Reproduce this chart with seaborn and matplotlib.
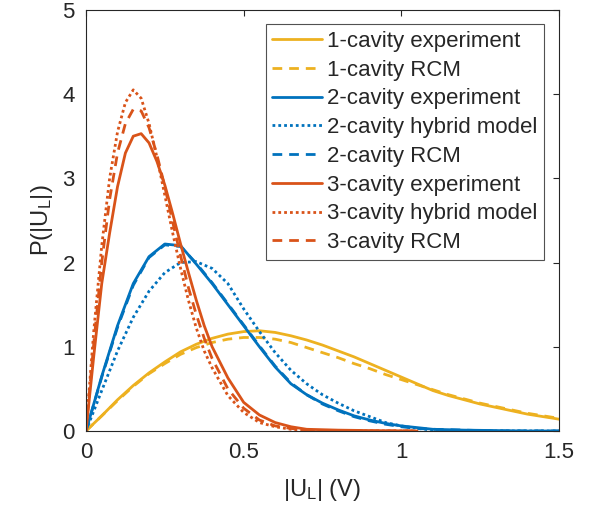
import numpy as np
import pandas as pd
import seaborn as sns
import matplotlib.pyplot as plt

# 1-cavity
x1 = [0, 0.05, 0.1, 0.15, 0.2, 0.25, 0.3, 0.35, 0.4, 0.45, 0.5, 0.55, 0.6, 0.65, 0.7,
      0.75, 0.8, 0.85, 0.9, 0.95, 1.0, 1.05, 1.1, 1.15, 1.2, 1.25, 1.3, 1.35, 1.4, 1.45, 1.5]
y1_exp = [0, 0.18, 0.37, 0.54, 0.69, 0.82, 0.94, 1.03, 1.10, 1.15, 1.18, 1.19, 1.17, 1.13, 1.08,
          1.02, 0.95, 0.88, 0.80, 0.72, 0.64, 0.56, 0.48, 0.42, 0.37, 0.32, 0.28, 0.24, 0.20, 0.17, 0.14]
y1_rcm = [0, 0.18, 0.36, 0.53, 0.68, 0.80, 0.91, 0.99, 1.05, 1.09, 1.11, 1.11, 1.09, 1.05, 0.99,
          0.93, 0.87, 0.80, 0.74, 0.67, 0.61, 0.55, 0.49, 0.43, 0.38, 0.33, 0.29, 0.25, 0.21, 0.18, 0.15]

# 2-cavity
x2 = [0, 0.05, 0.1, 0.15, 0.2, 0.25, 0.3, 0.35, 0.4, 0.45, 0.5, 0.55, 0.6, 0.65, 0.7,
      0.75, 0.8, 0.85, 0.9, 0.95, 1.0, 1.05, 1.1, 1.2, 1.3, 1.4, 1.5]
y2_exp = [0, 0.65, 1.25, 1.75, 2.07, 2.22, 2.20, 1.98, 1.75, 1.50, 1.25, 1.00, 0.76, 0.56, 0.43,
          0.33, 0.25, 0.18, 0.13, 0.09, 0.06, 0.04, 0.02, 0.01, 0.005, 0.0, 0.0]
y2_hyb = [0, 0.48, 0.95, 1.35, 1.66, 1.88, 2.00, 2.01, 1.93, 1.75, 1.45, 1.18, 0.93, 0.72, 0.56,
          0.43, 0.33, 0.24, 0.17, 0.10, 0.06, 0.03, 0.01, 0.0, 0.0, 0.0, 0.0]
y2_rcm = [0, 0.64, 1.23, 1.73, 2.06, 2.21, 2.19, 1.99, 1.76, 1.51, 1.26, 1.01, 0.77, 0.57, 0.43,
          0.32, 0.24, 0.17, 0.12, 0.08, 0.05, 0.03, 0.02, 0.01, 0.0, 0.0, 0.0]

# 3-cavity
x3 = [0, 0.025, 0.05, 0.075, 0.1, 0.125, 0.15, 0.175, 0.2, 0.225, 0.25, 0.275, 0.3, 0.325,
      0.35, 0.375, 0.4, 0.45, 0.5, 0.55, 0.6, 0.65, 0.7, 0.8, 0.9, 1.05]
y3_exp = [0, 0.9, 1.75, 2.35, 2.90, 3.30, 3.50, 3.53, 3.42, 3.20, 2.92, 2.58, 2.22, 1.88,
          1.55, 1.25, 1.00, 0.63, 0.34, 0.19, 0.10, 0.05, 0.02, 0.01, 0.005, 0.0]
y3_hyb = [0, 1.2, 2.2, 3.0, 3.55, 3.90, 4.05, 3.95, 3.65, 3.25, 2.80, 2.35, 1.93, 1.55,
          1.22, 0.95, 0.75, 0.42, 0.22, 0.10, 0.05, 0.02, 0.0, 0.0, 0.0, 0.0]
y3_rcm = [0, 1.05, 2.0, 2.75, 3.30, 3.65, 3.82, 3.80, 3.60, 3.28, 2.90, 2.48, 2.08, 1.70,
          1.38, 1.10, 0.86, 0.50, 0.27, 0.13, 0.06, 0.03, 0.01, 0.0, 0.0, 0.0]

yellow = '#EDB120'
blue = '#0072BD'
red = '#D95319'

dotted = (0, (1, 1.1))
dashed = (0, (3.5, 2.5))

series = [
    (x1, y1_exp, yellow, '-', '1-cavity experiment'),
    (x1, y1_rcm, yellow, dashed, '1-cavity RCM'),
    (x2, y2_exp, blue, '-', '2-cavity experiment'),
    (x2, y2_hyb, blue, dotted, '2-cavity hybrid model'),
    (x2, y2_rcm, blue, dashed, '2-cavity RCM'),
    (x3, y3_exp, red, '-', '3-cavity experiment'),
    (x3, y3_hyb, red, dotted, '3-cavity hybrid model'),
    (x3, y3_rcm, red, dashed, '3-cavity RCM'),
]

sns.set_style('white')
plt.rcParams['font.family'] = ['Liberation Sans', 'DejaVu Sans']
plt.rcParams['mathtext.default'] = 'regular'

fig = plt.figure(figsize=(5.95, 5.18), dpi=100)
ax = fig.add_axes([0.1445, 0.168, 0.795, 0.813])

for xs, ys, col, ls, lab in series:
    df = pd.DataFrame({'x': xs, 'y': ys})
    sns.lineplot(data=df, x='x', y='y', ax=ax, color=col, linestyle=ls,
                 linewidth=2, label=lab)

ax.set_xlim(0, 1.5)
ax.set_ylim(0, 5)
ax.set_xticks([0, 0.5, 1, 1.5])
ax.set_xticklabels(['0', '0.5', '1', '1.5'])
ax.set_yticks([0, 1, 2, 3, 4, 5])
ax.tick_params(direction='in', top=True, right=True, length=4, width=0.8,
               labelsize=16, colors='#262626', pad=8)
for s in ax.spines.values():
    s.set_color('#262626')
    s.set_linewidth(0.8)

ax.set_xlabel('$|U_L|$ (V)', fontsize=17, color='#262626', labelpad=10)
ax.set_ylabel('$P(|U_L|)$', fontsize=17, color='#262626', labelpad=5)

leg = ax.legend(loc='upper right', bbox_to_anchor=(0.968, 0.966), fontsize=16,
                handlelength=2.25, handletextpad=0.2, labelspacing=0.35,
                borderpad=0.3, borderaxespad=0, frameon=True, fancybox=False)
leg.get_frame().set_edgecolor('#262626')
leg.get_frame().set_linewidth(0.8)

fig.savefig('out.png', dpi=100)
